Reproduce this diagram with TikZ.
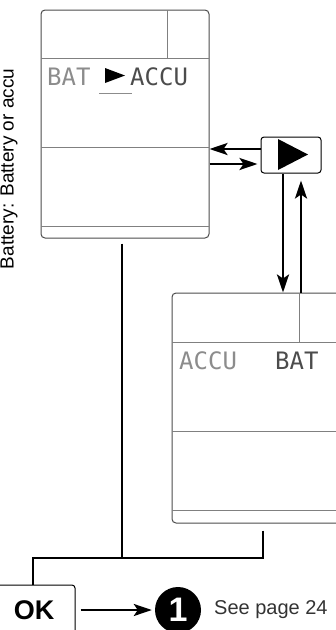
\documentclass[tikz,border=0pt]{standalone}
\usepackage{fontspec}
\setmainfont{Liberation Sans}
\newfontfamily\lcdfont{DejaVu Sans Mono}
\usetikzlibrary{arrows.meta,positioning}

\definecolor{framegray}{gray}{0.30}
\definecolor{rulegray}{gray}{0.50}
\definecolor{lcdon}{gray}{0.30}
\definecolor{lcddim}{gray}{0.55}
\definecolor{notegray}{gray}{0.20}

\begin{document}
\begin{tikzpicture}[x=1pt,y=-1pt]
\tikzset{
  screen/.style={draw=framegray,line width=1pt,rounded corners=4pt,inner sep=0pt},
  keybox/.style={draw=black,line width=1pt,rounded corners=3pt,inner sep=0pt,fill=white},
  lcdtext/.style={anchor=base west,inner sep=0pt,font=\lcdfont\fontsize{24}{24}\selectfont},
  panelrule/.style={draw=rulegray,line width=0.8pt},
  stepflow/.style={-{Stealth[length=18pt,width=12pt,inset=4pt]},line width=2.5pt},
  joinline/.style={line width=2pt},
  notetext/.style={inner sep=0pt,font=\fontsize{20}{24}\selectfont}
}
\clip (0,0) rectangle (336,630);
% screens and buttons
\node[screen,minimum width=168pt,minimum height=228pt] (s_bat) at (125,124) {};
\node[screen,minimum width=182pt,minimum height=230pt] (s_accu) at (263,408) {};
\node[keybox,minimum width=60pt,minimum height=36pt] (k_next) at (291,155) {};
\node[keybox,minimum width=84pt,minimum height=60pt] (k_ok) at (33,615) {};
\node[circle,fill=black,minimum size=46pt,inner sep=0pt,text=white,
      font=\bfseries\fontsize{34}{34}\selectfont] (c_one) at (178,610) {1};
\node[notetext,text=notegray,anchor=west] (t_page) at (214,610) {See page 24};
\node[rotate=90,inner sep=0pt,font=\fontsize{19}{22}\selectfont] (t_side) at (9,169) {Battery: Battery or accu};
\node[font=\bfseries\fontsize{27}{27}\selectfont,inner sep=0pt] (t_ok) at (34,610) {OK};
% inner rules of the screens
\draw[panelrule] (167,10) -- (167,58);
\draw[panelrule] (41,58) -- (209,58);
\draw[panelrule] (41,147) -- (209,147);
\draw[panelrule] (41,226) -- (209,226);
\draw[panelrule] (299,293) -- (299,342);
\draw[panelrule] (172,342) -- (336,342);
\draw[panelrule] (172,431) -- (336,431);
\draw[panelrule] (172,510) -- (336,510);
% lcd texts
\node[lcdtext,text=lcddim] (l_bat1) at (47,85) {BAT};
\node[lcdtext,text=lcdon] (l_accu1) at (130,85) {ACCU};
\fill (105,68) -- (105,83) -- (125,75.5) -- cycle;
\draw[draw=lcddim,line width=1pt] (99,93) -- (132,93);
\node[lcdtext,text=lcddim] (l_accu2) at (179,369) {ACCU};
\node[lcdtext,text=lcdon] (l_bat2) at (275,369) {BAT};
% triangle on the key
\fill (278,139) -- (278,170) -- (308,154.5) -- cycle;
% arrows
\draw[stepflow] ([yshift=6pt]k_next.west) -- ([yshift=6pt]k_next.west -| s_bat.east);
\draw[stepflow,shorten >=3pt] ([yshift=-9pt]k_next.west -| s_bat.east) -- ([yshift=-9pt]k_next.west);
\draw[stepflow] ([xshift=-8pt]k_next.south) -- ([xshift=-8pt]k_next.south |- s_accu.north);
\draw[stepflow,shorten >=7pt] ([xshift=10pt]k_next.south |- s_accu.north) -- ([xshift=10pt]k_next.south);
\draw[stepflow,shorten <=5pt,shorten >=3pt] (k_ok.east |- c_one) -- (c_one.west);
% joining lines
\coordinate (j_mid) at (122,558);
\draw[joinline] ([xshift=-3pt,yshift=-5pt]s_bat.south) -- (j_mid);
\draw[joinline] ([yshift=-7pt]s_accu.south) -- (s_accu.south |- j_mid) -- (k_ok.north |- j_mid) -- (k_ok.north);
\end{tikzpicture}
\end{document}
